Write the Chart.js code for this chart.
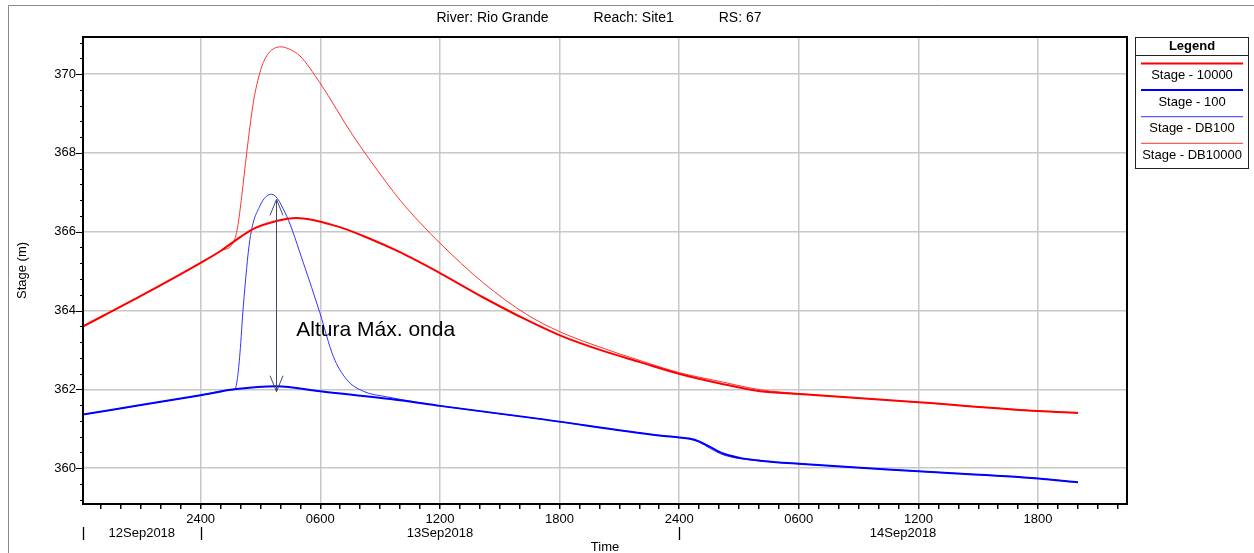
<!DOCTYPE html>
<html><head><meta charset="utf-8">
<script src="https://cdn.jsdelivr.net/npm/chart.js@4/dist/chart.umd.min.js"></script>
<style>html,body{margin:0;padding:0;background:#fff}#wrap{position:relative;width:1254px;height:553px}</style>
</head><body><div id="wrap"><canvas id="c" width="1254" height="553"></canvas></div>
<script>
// ---------- data ----------
const titleParts = ['River: Rio Grande', 'Reach: Site1', 'RS: 67'];
const xAxisTitle = 'Time';
const yAxisTitle = 'Stage (m)';
const legendTitle = 'Legend';
const seriesNames = ['Stage - 10000', 'Stage - 100', 'Stage - DB100', 'Stage - DB10000'];
// time in hours since 12Sep2018 0000
const majorHours = [24, 30, 36, 42, 48, 54, 60, 66];
const majorLabels = ['2400', '0600', '1200', '1800', '2400', '0600', '1200', '1800'];
const dayLabels = ['12Sep2018', '13Sep2018', '14Sep2018'];
const dayBreaks = [24, 48];
const yMajorValues = [360, 362, 364, 366, 368, 370];

const t10000 = [18,21,24,25,25.7,26.6,27.8,28.8,30.82,32.49,34,36,38.18,40.35,42.02,44.03,46.04,48.03,50.05,52.06,54.03,60,66,68];
const v10000 = [363.57,364.37,365.21,365.51,365.76,366.06,366.27,366.35,366.14,365.82,365.48,364.95,364.33,363.76,363.37,363.00,362.69,362.39,362.15,361.95,361.88,361.67,361.45,361.40];

const t100 = [18,21,24,25.7,27.8,30,34,36,41,47,48,48.5,49.0,49.55,50.2,51.05,52.05,54,60,66,68];
const v100 = [361.35,361.60,361.85,362.0,362.08,361.95,361.72,361.58,361.25,360.83,360.78,360.75,360.68,360.54,360.37,360.26,360.19,360.11,359.92,359.74,359.64];

const tDB100 = [18,21,24,25.5,25.72,25.85,25.97,26.14,26.47,26.97,27.56,28.31,29.15,29.98,30.65,31.32,32.16,33.33,35,36,41,47,48,48.5,49.0,49.55,50.2,51.05,52.05,54,60,66,68];
const vDB100 = [361.35,361.60,361.85,361.985,362.0,362.3,362.9,364.1,365.8,366.65,366.95,366.40,365.21,363.94,362.84,362.25,361.95,361.81,361.66,361.58,361.25,360.83,360.78,360.74,360.66,360.50,360.34,360.24,360.18,360.11,359.92,359.74,359.64];

const tDB10000 = [18,21,24,25,25.65,25.85,26.06,26.31,26.64,26.9,27.14,27.5,28.03,28.5,28.98,29.98,31.65,33.33,34,35,36,38.18,40.35,42.02,44.03,46.04,48.03,50.05,52.06,54.03,60,66,68];
const vDB10000 = [363.57,364.37,365.21,365.51,365.74,366.1,366.9,368.0,369.27,369.9,370.29,370.58,370.69,370.62,370.46,369.78,368.43,367.24,366.80,366.23,365.71,364.70,363.90,363.46,363.07,362.73,362.42,362.20,361.99,361.89,361.67,361.45,361.40];

// annotation
const annotText = 'Altura Máx. onda';
const arrowHour = 27.76, arrowTop = 366.82, arrowBottom = 361.94;
const annotHour = 28.8, annotValue = 363.35;

// ---------- styles ----------
const FONT = "'Liberation Sans', Arial, sans-serif";
const X_MIN = 18.1, X_MAX = 70.46, Y_MIN = 359.09, Y_MAX = 370.94;

function pts(t, v) { return t.map((x, i) => ({x: x, y: v[i]})); }
const isMajorY = v => yMajorValues.some(m => Math.abs(m - v) < 1e-6);
const majorIndexX = v => majorHours.findIndex(m => Math.abs(m - v) < 1e-6);

const ds = [
  {label: seriesNames[0], data: pts(t10000, v10000), borderColor: '#ff0000', borderWidth: 2},
  {label: seriesNames[1], data: pts(t100, v100), borderColor: '#0000ff', borderWidth: 2},
  {label: seriesNames[2], data: pts(tDB100, vDB100), borderColor: '#3333ff', borderWidth: 1},
  {label: seriesNames[3], data: pts(tDB10000, vDB10000), borderColor: '#ff3333', borderWidth: 1}
].map(d => Object.assign(d, {pointRadius: 0, fill: false, cubicInterpolationMode: 'monotone'}));

const decor = {
  id: 'decor',
  afterDraw(chart) {
    const ctx = chart.ctx, ca = chart.chartArea;
    const xs = chart.scales.x, ys = chart.scales.y;
    ctx.save();
    // outer frame
    ctx.strokeStyle = '#8a8a8a'; ctx.lineWidth = 1;
    ctx.beginPath(); ctx.moveTo(8.5, 553); ctx.lineTo(8.5, 5.5); ctx.lineTo(1254, 5.5); ctx.stroke();
    // plot frame
    ctx.strokeStyle = '#000'; ctx.lineWidth = 2;
    ctx.strokeRect(ca.left, ca.top, ca.right - ca.left, ca.bottom - ca.top);
    // y ticks
    ctx.lineWidth = 1;
    ys.ticks.forEach(tk => {
      const y = Math.round(ys.getPixelForValue(tk.value)) + 0.5;
      const len = isMajorY(tk.value) ? 7 : 3;
      ctx.beginPath(); ctx.moveTo(ca.left - len, y); ctx.lineTo(ca.left, y); ctx.stroke();
    });
    // date labels
    ctx.fillStyle = '#000'; ctx.font = '13px ' + FONT;
    ctx.textAlign = 'center'; ctx.textBaseline = 'middle';
    const bounds = [X_MIN].concat(dayBreaks, [X_MAX]);
    dayLabels.forEach((lab, i) => {
      const a = xs.getPixelForValue(bounds[i]), b = xs.getPixelForValue(bounds[i + 1]);
      ctx.fillText(lab, (a + b) / 2, 533);
    });
    ctx.lineWidth = 1.3;
    [X_MIN].concat(dayBreaks).forEach(h => {
      const x = Math.round(xs.getPixelForValue(h)) + 0.5;
      ctx.beginPath(); ctx.moveTo(x, 527); ctx.lineTo(x, 540); ctx.stroke();
    });
    ctx.lineWidth = 1;
    // titles
    const cx = (ca.left + ca.right) / 2;
    ctx.fillText(xAxisTitle, cx, 547);
    ctx.save(); ctx.translate(22, (ca.top + ca.bottom) / 2); ctx.rotate(-Math.PI / 2);
    ctx.fillText(yAxisTitle, 0, 0); ctx.restore();
    ctx.font = '14px ' + FONT;
    const w = titleParts.map(p => ctx.measureText(p).width);
    const gap = 45;
    const total = w[0] + w[1] + w[2] + 2 * gap;
    let tx = 599 - total / 2;
    ctx.textAlign = 'left';
    titleParts.forEach((p, i) => { ctx.fillText(p, tx, 18); tx += w[i] + gap; });
    // annotation arrow
    const ax = Math.round(xs.getPixelForValue(arrowHour)) + 0.5;
    const y1 = ys.getPixelForValue(arrowTop), y2 = ys.getPixelForValue(arrowBottom);
    ctx.strokeStyle = '#3c4b68'; ctx.lineWidth = 1;
    ctx.beginPath();
    ctx.moveTo(ax, y1); ctx.lineTo(ax, y2);
    ctx.moveTo(ax - 6.5, y1 + 16); ctx.lineTo(ax, y1); ctx.lineTo(ax + 6.5, y1 + 16);
    ctx.moveTo(ax - 6.5, y2 - 16); ctx.lineTo(ax, y2); ctx.lineTo(ax + 6.5, y2 - 16);
    ctx.stroke();
    ctx.fillStyle = '#000'; ctx.font = '21px ' + FONT; ctx.textAlign = 'left'; ctx.textBaseline = 'alphabetic';
    ctx.fillText(annotText, xs.getPixelForValue(annotHour), ys.getPixelForValue(annotValue));
    // legend
    const L = 1135.5, T = 37.5, W = 113, H = 131;
    ctx.fillStyle = '#fff'; ctx.fillRect(L, T, W, H);
    ctx.strokeStyle = '#222'; ctx.lineWidth = 1; ctx.strokeRect(L, T, W, H);
    ctx.beginPath(); ctx.moveTo(L, 55.5); ctx.lineTo(L + W, 55.5); ctx.stroke();
    ctx.fillStyle = '#000'; ctx.textAlign = 'center'; ctx.textBaseline = 'middle';
    ctx.font = 'bold 13px ' + FONT;
    ctx.fillText(legendTitle, L + W / 2, 46);
    ctx.font = '13px ' + FONT;
    chart.data.datasets.forEach((d, i) => {
      const ly = 63.5 + i * 26.6;
      ctx.strokeStyle = d.borderColor; ctx.lineWidth = d.borderWidth;
      ctx.beginPath(); ctx.moveTo(1141, ly); ctx.lineTo(1243, ly); ctx.stroke();
      ctx.fillText(d.label, L + W / 2, ly + 12);
    });
    ctx.restore();
  }
};

new Chart(document.getElementById('c'), {
  type: 'line',
  data: {datasets: ds},
  plugins: [decor],
  options: {
    responsive: false, animation: false, devicePixelRatio: 1,
    layout: {padding: {left: 0, right: 127, top: 37, bottom: 0}},
    plugins: {legend: {display: false}, tooltip: {enabled: false}, title: {display: false}},
    scales: {
      x: {
        type: 'linear', min: X_MIN, max: X_MAX,
        afterFit(s) { s.height = 49; },
        border: {display: false},
        grid: {
          color: c => majorIndexX(c.tick ? c.tick.value : NaN) >= 0 ? '#c8c8c8' : 'rgba(0,0,0,0)',
          tickColor: '#000', lineWidth: 1.5, tickLength: 5, drawTicks: true
        },
        ticks: {
          stepSize: 1, autoSkip: false, includeBounds: false, maxRotation: 0, minRotation: 0, padding: 3,
          color: '#000', font: {family: FONT, size: 13},
          callback: v => { const i = majorIndexX(v); return i >= 0 ? majorLabels[i] : ''; }
        }
      },
      y: {
        type: 'linear', min: Y_MIN, max: Y_MAX,
        afterFit(s) { s.width = 83; },
        border: {display: false},
        grid: {
          color: c => isMajorY(c.tick ? c.tick.value : NaN) ? '#c8c8c8' : 'rgba(0,0,0,0)',
          lineWidth: 1.5, drawTicks: false
        },
        ticks: {
          stepSize: 0.4, autoSkip: false, includeBounds: false, padding: 7,
          color: '#000', font: {family: FONT, size: 13},
          callback: v => isMajorY(v) ? String(Math.round(v)) : ''
        }
      }
    }
  }
});
</script></body></html>
